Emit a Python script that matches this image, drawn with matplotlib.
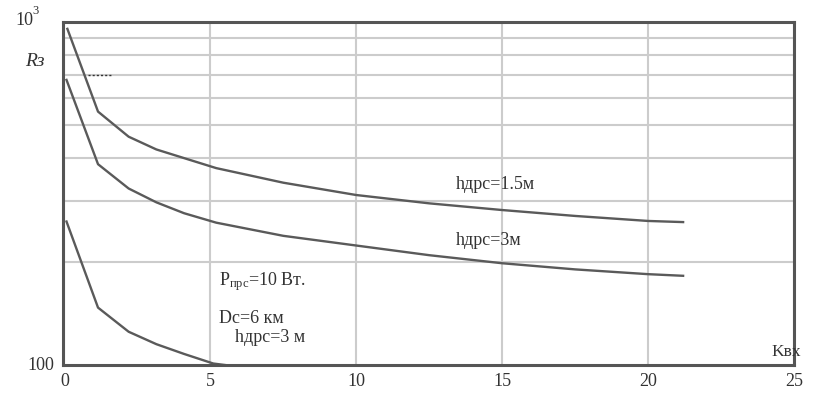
import matplotlib.pyplot as plt
from matplotlib.ticker import FixedLocator, NullFormatter

plt.rcParams['font.family'] = ['Liberation Serif', 'DejaVu Serif']
plt.rcParams['mathtext.fontset'] = 'custom'
plt.rcParams['mathtext.rm'] = 'Liberation Serif'
plt.rcParams['mathtext.it'] = 'Liberation Serif:italic'

# Kвх values and Rэ readings for each curve
k1 = [0.1, 1.15, 2.2, 3.15, 4.1, 5.2, 7.5, 10, 12.5, 15, 17.5, 20, 21.2]
r1 = [955, 548, 463, 425, 401, 375, 340, 313, 296, 283, 272, 263, 261]

k2 = [0.07, 1.15, 2.2, 3.15, 4.1, 5.2, 7.5, 10, 12.5, 15, 17.5, 20, 21.2]
r2 = [678, 385, 327, 298, 277, 260, 238, 223, 209, 198, 190, 184, 182]

k3 = [0.07, 1.15, 2.2, 3.15, 4.1, 5.1, 5.5]
r3 = [262, 147, 125, 115, 107.7, 101, 100]

xticks = [0, 5, 10, 15, 20, 25]
ygrid = [200, 300, 400, 500, 600, 700, 800, 900]

fig = plt.figure(figsize=(8.21, 3.97), dpi=100)
ax = fig.add_axes([63 / 821, 1 - 365 / 397, 731 / 821, 343 / 397])

ax.set_yscale('log')
ax.set_xlim(-0.05, 25)
ax.set_ylim(100, 1000)

line_c = '#5a5a5a'
ax.plot(k1, r1, color=line_c, lw=1.7)
ax.plot(k2, r2, color=line_c, lw=1.7)
ax.plot(k3, r3, color=line_c, lw=1.7)

# short dotted marker near the upper curve
ax.plot([0.8, 1.67], [700, 700], color='#333333', lw=1.0, ls=(0, (1.5, 1.5)))

ax.xaxis.set_major_locator(FixedLocator(xticks))
ax.yaxis.set_major_locator(FixedLocator([100, 1000]))
ax.yaxis.set_minor_locator(FixedLocator(ygrid))
ax.yaxis.set_major_formatter(NullFormatter())
ax.yaxis.set_minor_formatter(NullFormatter())
ax.tick_params(axis='both', which='both', length=0)
ax.tick_params(axis='x', labelsize=13, pad=6, colors='#333333')

ax.grid(True, axis='x', which='major', color='#cccccc', lw=1.5)
ax.grid(True, axis='y', which='minor', color='#cccccc', lw=1.5)
ax.set_axisbelow(True)

for s in ax.spines.values():
    s.set_color('#555555')
    s.set_linewidth(2.2)

tc = '#333333'
fig.text(15 / 821, 1 - 25 / 397, '10', ha='left', va='baseline', fontsize=13, color=tc)
fig.text(32 / 821, 1 - 14 / 397, '3', ha='left', va='baseline', fontsize=9, color=tc)
ax.text(-0.025, 0.885, 'Rз', transform=ax.transAxes, ha='right', va='center',
        fontsize=14, style='italic', color=tc)
ax.text(-0.012, 0.0, '100', transform=ax.transAxes, ha='right', va='center',
        fontsize=13, color=tc)
ax.text(24.75, 109, 'Kвх', ha='center', va='center', fontsize=12.5, color=tc)

ax.text(13.4, 335, 'hдрс=1.5м', fontsize=13, color=tc, va='center')
ax.text(13.4, 231, 'hдрс=3м', fontsize=13, color=tc, va='center')
ax.text(5.3, 175, r'P$_{\mathrm{прс}}$=10 Вт.', fontsize=13, color=tc, va='center')
ax.text(5.3, 137, 'Dс=6 км', fontsize=13, color=tc, va='center')
ax.text(5.85, 120, 'hдрс=3 м', fontsize=13, color=tc, va='center')

fig.savefig('out.png', dpi=100)
